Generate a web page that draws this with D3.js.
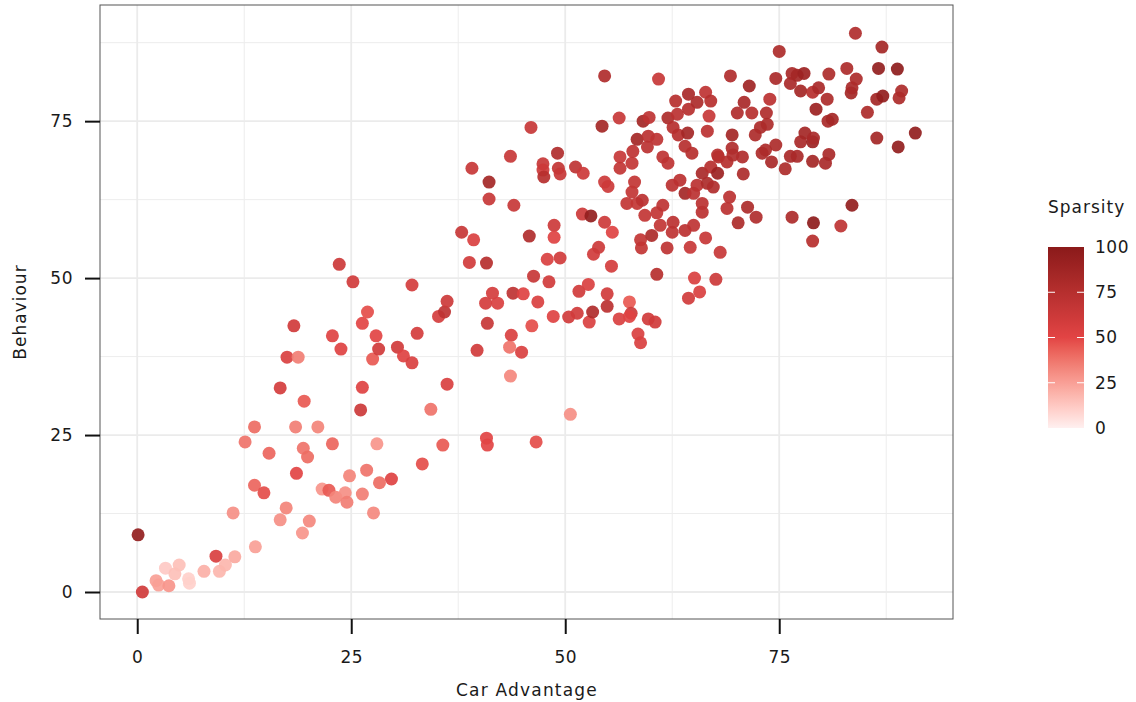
<!DOCTYPE html>
<html>
<head>
<meta charset="utf-8">
<script src="https://cdn.jsdelivr.net/npm/d3@7"></script>
<style>
  body { margin: 0; background: #fff; }
  svg { display: block; font-family: "DejaVu Sans", sans-serif; }
  .grid-major { stroke: #ebebeb; stroke-width: 1.8; }
  .grid-minor { stroke: #ededed; stroke-width: 1; }
</style>
</head>
<body>
<div id="chart"></div>
<script>
// values
var carAdvantage = [
  0.1, 0.6, 2.2, 2.5, 3.7, 3.3, 4.4, 4.9, 6.0, 6.1, 7.8, 9.2, 9.6, 10.3, 11.4, 11.2, 12.6, 13.7, 13.7, 13.8,
  14.8, 15.4, 16.7, 17.5, 16.7, 17.4, 18.3, 18.8, 18.5, 18.6, 19.3, 19.4, 19.5, 19.9, 20.1, 21.1, 21.6, 22.4, 22.8, 22.8,
  23.2, 23.6, 23.8, 24.3, 24.5, 24.8, 25.2, 26.1, 26.3, 26.9, 26.3, 26.3, 26.8, 27.5, 27.6, 27.9, 28.2, 28.0, 28.3, 29.7,
  30.4, 31.1, 32.1, 32.1, 32.7, 33.3, 34.3, 35.2, 35.9, 36.2, 35.7, 36.2,
  37.9, 39.3, 38.8, 39.1, 39.7, 40.8, 41.1, 41.1, 40.7, 41.5, 42.1, 40.9, 40.8, 40.9, 43.6, 44.0, 43.9, 43.7,
  43.5, 43.6, 44.9, 45.1, 46.0, 45.8, 46.3, 46.1, 46.8, 46.6, 47.4, 47.4, 47.5, 47.9, 48.1, 48.6, 48.7, 48.7, 49.1, 49.2,
  49.4, 50.6, 50.4, 51.4, 51.2, 51.6, 52.0, 52.1, 52.7, 52.8, 53.0, 53.2, 53.3, 53.9, 54.3, 54.6, 54.6, 54.6, 54.9, 54.9,
  55.0, 55.4, 55.5, 56.3, 56.3, 56.4, 56.4, 57.2, 57.5, 57.7, 57.5, 57.8, 57.8, 57.9, 58.1, 58.4, 58.4, 58.5, 58.8, 58.8,
  58.9, 59.0, 59.1, 59.3, 59.6, 59.7, 59.7, 59.8, 60.1, 60.5, 60.7, 60.7, 60.7, 60.9, 61.1, 61.4, 61.4, 61.9, 62.0, 62.0,
  62.5, 62.5, 62.6, 62.6, 62.9, 63.1, 63.2, 63.4, 64.0, 64.0, 64.0, 64.3, 64.4, 64.4, 64.4, 64.6, 64.8, 65.0, 65.0, 65.1,
  65.4, 65.4, 65.7, 66.0, 66.0, 66.0, 66.4, 66.4, 66.6, 66.6, 66.8, 67.0, 67.0, 67.3, 67.6, 67.8, 67.8, 67.9, 68.1, 68.9,
  68.9, 69.2, 69.3, 69.5, 69.5, 69.6, 70.1, 70.2, 70.7, 70.8, 70.9, 71.3, 71.5, 71.8, 72.2, 72.3, 72.8, 73.0, 73.4, 73.5,
  73.6, 73.9, 74.1, 74.6, 74.6, 75.0, 75.7, 76.3, 76.3, 76.5, 76.5, 77.1, 77.1, 77.5, 77.5, 77.9, 78.0, 78.9, 78.9, 78.9,
  78.9, 79.0, 79.0, 79.3, 79.6, 80.4, 80.6, 80.7, 80.8, 80.8, 81.2, 82.2, 82.9, 83.4, 83.5, 83.5, 83.9, 84.0, 85.3, 86.4,
  86.4, 86.6, 87.0, 87.1, 88.8, 88.9, 89.0, 89.3, 90.9, 49.4
];
var behaviour = [
  9.1, 0.0, 1.8, 1.1, 1.0, 3.8, 2.9, 4.3, 2.1, 1.4, 3.3, 5.7, 3.3, 4.3, 5.6, 12.6, 23.9, 26.3, 17.0, 7.2,
  15.8, 22.1, 32.5, 37.4, 11.5, 13.4, 42.4, 37.4, 26.3, 18.9, 9.4, 22.9, 30.4, 21.5, 11.3, 26.3, 16.4, 16.2, 40.8, 23.6,
  15.1, 52.2, 38.7, 15.8, 14.3, 18.5, 49.4, 29.0, 42.8, 44.6, 32.6, 15.6, 19.4, 37.1, 12.6, 40.8, 38.7, 23.6, 17.4, 18.0,
  39.0, 37.6, 36.5, 48.9, 41.2, 20.4, 29.1, 43.9, 44.6, 46.3, 23.4, 33.1,
  57.3, 56.1, 52.5, 67.5, 38.5, 52.4, 65.3, 62.6, 46.0, 47.6, 46.0, 42.8, 24.5, 23.4, 69.4, 61.6, 47.6, 40.9,
  39.0, 34.4, 38.2, 47.5, 74.0, 56.7, 50.3, 42.4, 46.2, 23.9, 68.2, 67.2, 66.1, 53.0, 49.4, 43.9, 58.4, 56.5, 69.9, 67.5,
  53.2, 28.3, 43.8, 44.4, 67.7, 47.9, 60.2, 66.7, 49.0, 43.0, 59.9, 44.6, 53.8, 54.9, 74.2, 82.2, 65.3, 58.9, 47.5, 45.5,
  64.6, 51.9, 57.3, 75.5, 43.5, 69.3, 67.5, 61.9, 46.2, 44.4, 43.9, 68.3, 63.7, 70.2, 65.3, 72.1, 61.9, 41.1, 39.7, 56.1,
  54.8, 62.4, 75.0, 60.0, 70.9, 72.6, 43.5, 75.6, 56.8, 43.0, 72.1, 60.4, 50.6, 81.7, 58.4, 69.3, 61.6, 54.8, 75.5, 68.3,
  64.8, 57.3, 74.0, 58.9, 78.2, 76.1, 72.8, 65.6, 71.0, 63.5, 57.6, 73.1, 79.3, 76.9, 46.8, 54.9, 69.9, 63.5, 58.4, 50.0,
  78.0, 64.8, 47.8, 66.7, 61.9, 60.5, 79.6, 56.4, 73.4, 65.1, 75.8, 78.2, 67.7, 64.5, 49.8, 69.6, 66.7, 69.3, 54.1, 68.5,
  61.1, 62.9, 82.2, 72.8, 70.7, 69.6, 76.3, 58.8, 69.3, 66.6, 78.0, 61.3, 80.6, 76.3, 72.8, 59.7, 74.0, 69.9, 70.4, 76.3,
  74.5, 78.5, 68.5, 81.8, 71.2, 86.1, 67.4, 81.0, 69.4, 82.6, 59.7, 82.3, 69.4, 79.8, 71.7, 82.6, 73.1, 79.6, 71.7, 68.6,
  55.9, 72.3, 58.8, 76.9, 80.3, 68.3, 78.5, 75.0, 82.5, 69.7, 75.3, 58.3, 83.4, 79.5, 61.6, 80.3, 89.0, 81.7, 76.4, 78.5,
  72.3, 83.4, 86.8, 79.0, 83.3, 70.9, 78.7, 79.8, 73.1, 66.6
];
var sparsity = [
  95, 60, 25, 25, 28, 12, 15, 15, 10, 10, 20, 55, 18, 18, 22, 30, 38, 40, 42, 25,
  48, 42, 58, 55, 30, 33, 60, 35, 35, 50, 28, 38, 45, 40, 32, 33, 28, 45, 52, 42,
  33, 62, 52, 30, 35, 33, 60, 62, 50, 48, 52, 35, 38, 45, 32, 50, 60, 28, 40, 52,
  60, 52, 55, 58, 58, 48, 38, 58, 70, 62, 45, 55,
  65, 55, 60, 65, 60, 75, 85, 65, 58, 58, 55, 65, 50, 50, 65, 65, 70, 55,
  38, 32, 55, 52, 65, 78, 65, 48, 55, 48, 65, 62, 75, 55, 60, 52, 62, 52, 78, 68,
  60, 30, 60, 60, 70, 60, 62, 62, 55, 55, 95, 78, 60, 62, 85, 78, 62, 62, 60, 72,
  62, 58, 52, 65, 55, 65, 68, 68, 45, 62, 52, 68, 68, 70, 68, 85, 68, 55, 55, 68,
  68, 72, 85, 68, 72, 72, 60, 70, 80, 60, 70, 68, 75, 65, 68, 70, 70, 70, 80, 70,
  72, 70, 75, 72, 75, 72, 75, 72, 75, 85, 72, 85, 82, 75, 60, 65, 75, 72, 70, 55,
  80, 72, 55, 82, 72, 72, 70, 65, 72, 80, 65, 75, 75, 78, 62, 75, 90, 75, 65, 75,
  72, 72, 78, 85, 78, 78, 78, 80, 78, 80, 82, 80, 88, 75, 80, 78, 80, 80, 80, 78,
  80, 72, 82, 82, 80, 80, 80, 82, 82, 82, 80, 85, 82, 85, 82, 90, 85, 75, 90, 85,
  75, 82, 98, 90, 82, 82, 80, 82, 80, 82, 85, 70, 80, 85, 95, 82, 78, 80, 80, 85,
  85, 95, 85, 95, 98, 95, 80, 80, 95, 65
];
var xTicks = [0, 25, 50, 75];
var yTicks = [0, 25, 50, 75];
var legendTicks = [0, 25, 50, 75, 100];

var W = 1136, H = 702;
var panel = {left: 100, right: 953, top: 5, bottom: 619};
var textColor = "#1a1a1a";

var x = d3.scaleLinear().domain([-4.35, 95.3]).range([panel.left, panel.right]);
var y = d3.scaleLinear().domain([-4.3, 93.5]).range([panel.bottom, panel.top]);
var color = d3.scaleLinear()
  .domain([0, 50, 100])
  .range(["#fff0f0", "#e24444", "#8b1a1a"])
  .interpolate(d3.interpolateLab);

var points = carAdvantage.map(function(d, i) {
  return {x: d, y: behaviour[i], s: sparsity[i]};
});

var svg = d3.select("#chart").append("svg")
  .attr("width", W)
  .attr("height", H);

// grid
var minorX = [12.5, 37.5, 62.5, 87.5], minorY = [12.5, 37.5, 62.5, 87.5];
svg.selectAll(".gmx").data(minorX).enter().append("line")
  .attr("class", "grid-minor")
  .attr("x1", d => x(d)).attr("x2", d => x(d))
  .attr("y1", panel.top).attr("y2", panel.bottom);
svg.selectAll(".gmy").data(minorY).enter().append("line")
  .attr("class", "grid-minor")
  .attr("x1", panel.left).attr("x2", panel.right)
  .attr("y1", d => y(d)).attr("y2", d => y(d));
svg.selectAll(".gx").data(xTicks).enter().append("line")
  .attr("class", "grid-major")
  .attr("x1", d => x(d)).attr("x2", d => x(d))
  .attr("y1", panel.top).attr("y2", panel.bottom);
svg.selectAll(".gy").data(yTicks).enter().append("line")
  .attr("class", "grid-major")
  .attr("x1", panel.left).attr("x2", panel.right)
  .attr("y1", d => y(d)).attr("y2", d => y(d));

// points
svg.append("g").selectAll("circle")
  .data(points)
  .enter().append("circle")
    .attr("cx", d => x(d.x))
    .attr("cy", d => y(d.y))
    .attr("r", 6.5)
    .attr("fill", d => color(d.s))
    .attr("fill-opacity", 0.92);

// panel border
svg.append("rect")
  .attr("x", panel.left).attr("y", panel.top)
  .attr("width", panel.right - panel.left)
  .attr("height", panel.bottom - panel.top)
  .attr("fill", "none")
  .attr("stroke", "#555")
  .attr("stroke-width", 1);

// axes
var xAxis = svg.append("g")
  .attr("transform", `translate(0,${panel.bottom})`)
  .call(d3.axisBottom(x).tickValues(xTicks).tickSize(15).tickPadding(17));
var yAxis = svg.append("g")
  .attr("transform", `translate(${panel.left},0)`)
  .call(d3.axisLeft(y).tickValues(yTicks).tickSize(15).tickPadding(12));
[xAxis, yAxis].forEach(function(a) {
  a.attr("font-family", null).attr("font-size", null);
  a.select(".domain").remove();
  a.selectAll(".tick line").attr("stroke", "#111").attr("stroke-width", 2);
  a.selectAll(".tick text")
    .style("font-size", "17px")
    .style("letter-spacing", "0.5px")
    .attr("fill", textColor);
});

svg.append("text")
  .attr("x", 527)
  .attr("y", 696)
  .attr("text-anchor", "middle")
  .style("font-size", "17px")
  .style("letter-spacing", "1.2px")
  .attr("fill", textColor)
  .text("Car Advantage");

svg.append("text")
  .attr("transform", `translate(26,${(panel.top + panel.bottom) / 2}) rotate(-90)`)
  .attr("text-anchor", "middle")
  .style("font-size", "17px")
  .style("letter-spacing", "1px")
  .attr("fill", textColor)
  .text("Behaviour");

// legend
var lg = {x: 1048, w: 36, top: 247, bottom: 428};
var ls = d3.scaleLinear().domain([0, 100]).range([lg.bottom, lg.top]);

var grad = svg.append("defs").append("linearGradient")
  .attr("id", "sparsity-grad")
  .attr("x1", 0).attr("y1", 1).attr("x2", 0).attr("y2", 0);
grad.selectAll("stop")
  .data(d3.range(0, 101, 5))
  .enter().append("stop")
    .attr("offset", d => d / 100)
    .attr("stop-color", d => color(d));

svg.append("text")
  .attr("x", lg.x)
  .attr("y", 213)
  .style("font-size", "17px")
  .style("letter-spacing", "1px")
  .attr("fill", textColor)
  .text("Sparsity");

svg.append("rect")
  .attr("x", lg.x).attr("y", lg.top)
  .attr("width", lg.w).attr("height", lg.bottom - lg.top)
  .attr("fill", "url(#sparsity-grad)");

var inner = legendTicks.filter(d => d > 0 && d < 100);
svg.selectAll(".ltl").data(inner).enter().append("line")
  .attr("x1", lg.x).attr("x2", lg.x + 7)
  .attr("y1", d => ls(d)).attr("y2", d => ls(d))
  .attr("stroke", "#fff").attr("stroke-width", 1);
svg.selectAll(".ltr").data(inner).enter().append("line")
  .attr("x1", lg.x + lg.w - 7).attr("x2", lg.x + lg.w)
  .attr("y1", d => ls(d)).attr("y2", d => ls(d))
  .attr("stroke", "#fff").attr("stroke-width", 1);

svg.selectAll(".llab").data(legendTicks).enter().append("text")
  .attr("x", lg.x + lg.w + 11)
  .attr("y", d => ls(d))
  .attr("dy", "0.35em")
  .style("font-size", "17px")
  .style("letter-spacing", "0.5px")
  .attr("fill", textColor)
  .text(d => d);
</script>
</body>
</html>
